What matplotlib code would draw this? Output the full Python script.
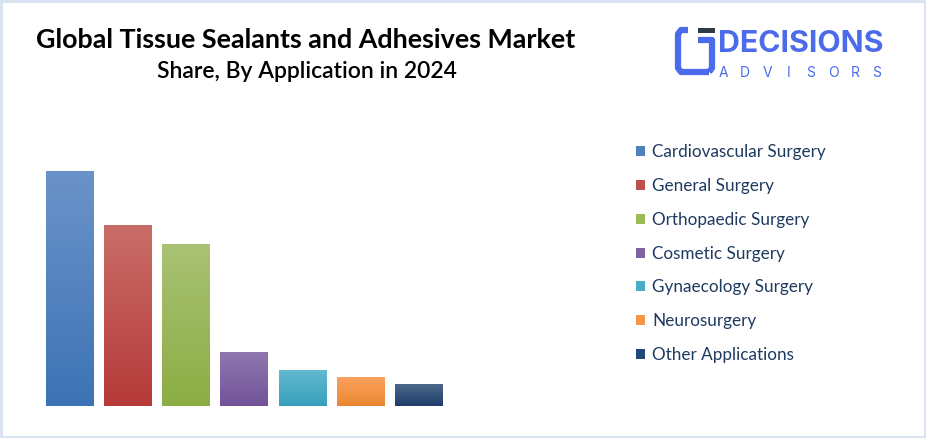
import matplotlib.pyplot as plt
import matplotlib.patches as mpatches
from matplotlib.colors import LinearSegmentedColormap
from matplotlib.lines import Line2D
import numpy as np

categories = [
    "Cardiovascular Surgery",
    "General Surgery",
    "Orthopaedic Surgery",
    "Cosmetic Surgery",
    "Gynaecology Surgery",
    "Neurosurgery",
    "Other Applications",
]
shares = [32.7, 25.2, 22.5, 7.5, 5.0, 4.0, 3.1]

# (top, bottom) gradient colours per bar, and legend swatch colour
top_colors = ["#6b93c9", "#c96d69", "#a9c274", "#8f77ae", "#63b9d0", "#fba25f", "#4f6a8c"]
bottom_colors = ["#3d73b5", "#b53a38", "#8cad44", "#72539a", "#38a0bc", "#eb8630", "#1f3d6a"]
swatch_colors = ["#4f81bd", "#c0504d", "#9bbb59", "#8064a2", "#4bacc6", "#f79646", "#1f497d"]

W, H = 926, 438
LOGO_BLUE = "#4b6bea"

plt.rcParams["font.family"] = ["Lato", "DejaVu Sans"]

fig = plt.figure(figsize=(W / 100, H / 100), dpi=100)
fig.patch.set_facecolor("white")

# bar axes placed in pixel terms
left, right = 40.5, 447.5
bottom, top = 406, 150
ax = fig.add_axes([left / W, 1 - bottom / H, (right - left) / W, (bottom - top) / H])
x = np.arange(len(categories))
bars = ax.bar(x, shares, width=0.81, color="none", edgecolor="none")
ax.set_xlim(-0.5, len(categories) - 0.5)
ax.set_ylim(0, shares[0] * (bottom - top) / (406 - 171))

for bar, c_top, c_bot in zip(bars, top_colors, bottom_colors):
    cmap = LinearSegmentedColormap.from_list("g", [c_bot, c_top])
    grad = np.linspace(0, 1, 256).reshape(-1, 1)
    x0 = bar.get_x()
    im = ax.imshow(
        grad,
        extent=[x0, x0 + bar.get_width(), 0, bar.get_height()],
        origin="lower",
        aspect="auto",
        cmap=cmap,
        zorder=2,
    )
    im.set_clip_path(bar)
ax.axis("off")

# legend
handles = [
    mpatches.Patch(facecolor=c, edgecolor="none", label=lab)
    for c, lab in zip(swatch_colors, categories)
]
fig.legend(
    handles=handles,
    loc="upper left",
    bbox_to_anchor=(621 / W, 1 - 129 / H),
    frameon=False,
    fontsize=12.3,
    labelcolor="#1f3a60",
    handlelength=0.52,
    handleheight=0.52,
    handletextpad=0.4,
    labelspacing=1.04,
)

# overlay for title, logo and border
ov = fig.add_axes([0, 0, 1, 1], zorder=5)
ov.set_xlim(0, W)
ov.set_ylim(H, 0)
ov.axis("off")
ov.patch.set_alpha(0)

ov.text(306, 40, "Global Tissue Sealants and Adhesives Market", ha="center", va="center",
        fontsize=19.4, fontweight="bold", color="black")
ov.text(307, 72, "Share, By Application in 2024", ha="center", va="center",
        fontsize=16.5, fontweight="semibold", color="black")

# logo icon
lw_logo = 4.5
ov.add_line(Line2D([688, 681, 678, 678, 681, 709], [30, 30, 34, 68, 72, 72],
                   color=LOGO_BLUE, lw=lw_logo, solid_joinstyle="round", solid_capstyle="butt"))
ov.add_line(Line2D([698, 712, 712, 709], [40, 40, 68, 72],
                   color=LOGO_BLUE, lw=lw_logo, solid_joinstyle="round", solid_capstyle="butt"))
ov.add_patch(mpatches.Rectangle((698, 28), 17, 5, facecolor="#2e3b45", edgecolor="none"))
ov.text(718, 44, "DECISIONS", ha="left", va="center", fontsize=21.8, fontweight="bold",
        color=LOGO_BLUE, family=["Inter", "DejaVu Sans"])
for i, ch in enumerate("ADVISORS"):
    ov.text(723 + i * 22.0, 73, ch, ha="center", va="center", fontsize=10,
            color=LOGO_BLUE, family=["Inter", "DejaVu Sans"])

# frame border
ov.add_patch(mpatches.Rectangle((1, 1), W - 2, H - 2, facecolor="none",
                                edgecolor="#d9e3f1", lw=2.2))

fig.savefig("out.png", dpi=100, facecolor="white")
